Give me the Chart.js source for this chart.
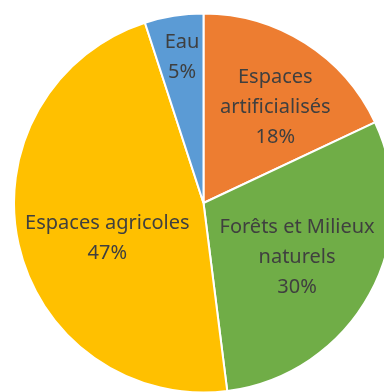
<!DOCTYPE html>
<html>
<head>
<meta charset="utf-8">
<script src="https://cdn.jsdelivr.net/npm/chart.js@4.4.1/dist/chart.umd.min.js"></script>
<style>
  html, body { margin: 0; padding: 0; background: #fff; }
  #wrap { width: 384px; height: 392px; overflow: hidden; position: relative; }
  #chart { position: absolute; left: 0; top: 0; }
</style>
</head>
<body>
<div id="wrap"><canvas id="chart" width="410" height="394"></canvas></div>
<script>
// occupation du sol (%)
const categories = ['Espaces artificialisés', 'Forêts et Milieux naturels', 'Espaces agricoles', 'Eau'];
const labelLines = [['Espaces', 'artificialisés'], ['Forêts et Milieux', 'naturels'], ['Espaces agricoles'], ['Eau']];
const values = [18, 30, 47, 5];
const colorSet = ['#ED7D31', '#70AD47', '#FFC000', '#5B9BD5'];

// placement des étiquettes : fraction du rayon + décalage d'angle (radians)
const labelRadius = [0.63, 0.57, 0.54, 0.775];
const labelAngleShift = [0.08, 0.02, -0.13, 0.01];

const sliceLabels = {
    id: 'sliceLabels',
    afterDatasetsDraw(chart) {
        const ctx = chart.ctx;
        const meta = chart.getDatasetMeta(0);
        const total = values.reduce((a, b) => a + b, 0);
        ctx.save();
        ctx.font = '20px "Noto Sans", sans-serif';
        ctx.fillStyle = '#3f3f3f';
        ctx.textAlign = 'center';
        ctx.textBaseline = 'middle';
        const lineH = 30;
        meta.data.forEach((arc, i) => {
            const p = arc.getProps(['x', 'y', 'startAngle', 'endAngle', 'outerRadius'], true);
            const mid = (p.startAngle + p.endAngle) / 2 + labelAngleShift[i];
            const r = p.outerRadius * labelRadius[i];
            const cx = p.x + Math.cos(mid) * r;
            const cy = p.y + Math.sin(mid) * r;
            const lines = labelLines[i].concat([Math.round(values[i] / total * 100) + '%']);
            const top = cy - (lines.length - 1) * lineH / 2;
            lines.forEach((t, k) => ctx.fillText(t, cx, top + k * lineH));
        });
        ctx.restore();
    }
};

new Chart(document.getElementById('chart'), {
    type: 'pie',
    data: {
        labels: categories,
        datasets: [{
            data: values,
            backgroundColor: colorSet,
            borderColor: '#ffffff',
            borderWidth: 2
        }]
    },
    options: {
        responsive: false,
        animation: false,
        layout: { padding: { left: 13, right: 16, top: 12, bottom: 0 } },
        plugins: {
            legend: { display: false },
            tooltip: { enabled: false }
        }
    },
    plugins: [sliceLabels]
});
</script>
</body>
</html>
